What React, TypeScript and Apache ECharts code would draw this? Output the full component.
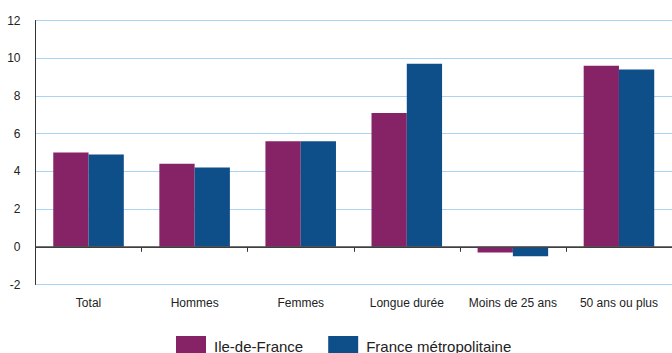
import React, { useEffect, useRef } from "react";
import * as echarts from "echarts";

const categories = ["Total", "Hommes", "Femmes", "Longue durée", "Moins de 25 ans", "50 ans ou plus"];
const ileDeFrance = [5.0, 4.4, 5.6, 7.1, -0.3, 9.6];
const franceMetro = [4.9, 4.2, 5.6, 9.7, -0.5, 9.4];
const seriesNames = ["Ile-de-France", "France métropolitaine"];

const FONT = "'Liberation Sans', Arial, sans-serif";

export default function App() {
  const ref = useRef<HTMLDivElement>(null);

  useEffect(() => {
    if (!ref.current) return;
    const chart = echarts.init(ref.current, undefined, { renderer: "svg" });
    chart.setOption({
      animation: false,
      textStyle: { fontFamily: FONT },
      grid: { left: 35.5, top: 20.5, right: -4, bottom: 68.5, containLabel: false },
      legend: {
        left: 171,
        top: 331,
        icon: "rect",
        itemWidth: 30,
        itemHeight: 20,
        itemGap: 25,
        textStyle: { fontSize: 15, color: "#222", fontFamily: FONT, padding: [0, 0, 0, 3] },
        data: seriesNames,
      },
      xAxis: {
        type: "category",
        data: categories,
        axisLine: { show: true, lineStyle: { color: "#333", width: 1 } },
        axisTick: { show: true, length: 5, lineStyle: { color: "#333" } },
        axisLabel: { color: "#222", fontSize: 12, margin: 12, interval: 0, fontFamily: FONT },
        splitLine: { show: false },
      },
      yAxis: {
        type: "value",
        min: -2,
        max: 12,
        interval: 2,
        axisLine: { show: true, lineStyle: { color: "#333", width: 1 } },
        axisTick: { show: false },
        axisLabel: { color: "#222", fontSize: 12, margin: 15, fontFamily: FONT },
        splitLine: { show: true, lineStyle: { color: "#aad5f2", width: 1 } },
      },
      series: [
        {
          name: seriesNames[0],
          type: "bar",
          data: ileDeFrance,
          itemStyle: { color: "#862266" },
          barGap: "0%",
          barCategoryGap: "33.5%",
          markLine: {
            silent: true,
            symbol: "none",
            label: { show: false },
            lineStyle: { color: "#444", width: 1.5, type: "solid" },
            data: [{ yAxis: 0 }],
          },
        },
        {
          name: seriesNames[1],
          type: "bar",
          data: franceMetro,
          itemStyle: { color: "#0f4f89" },
          barGap: "0%",
          barCategoryGap: "33.5%",
        },
      ],
    });
    return () => chart.dispose();
  }, []);

  return (
    <div
      ref={ref}
      style={{ position: "fixed", left: 0, top: 0, width: 672, height: 353, background: "#fff" }}
    />
  );
}
